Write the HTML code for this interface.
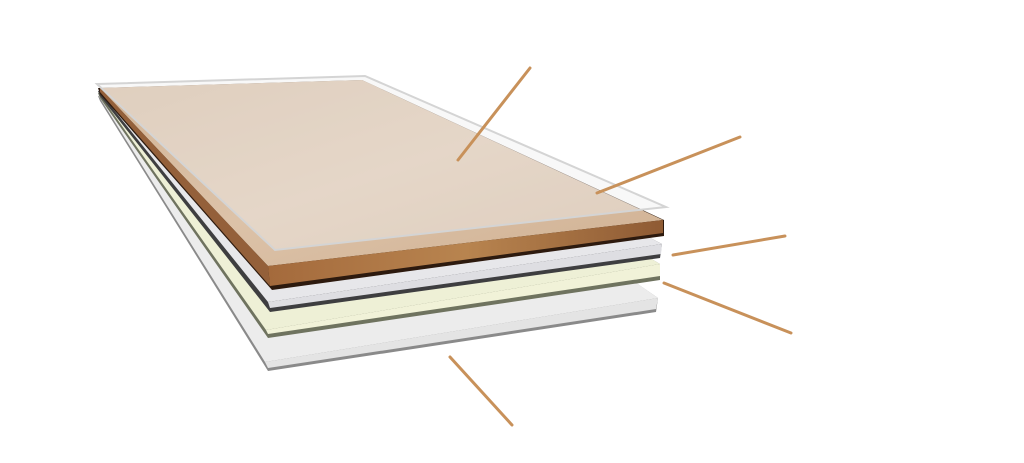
<!DOCTYPE html>
<html><head><style>html,body{margin:0;padding:0;background:#fff;}svg{display:block}</style></head>
<body>
<svg width="1024" height="463" viewBox="0 0 1024 463" xmlns="http://www.w3.org/2000/svg">
<defs>
<linearGradient id="wtop" x1="0" y1="0" x2="1" y2="1">
<stop offset="0" stop-color="#d2b496"/><stop offset="0.5" stop-color="#dcc2a8"/><stop offset="1" stop-color="#d0b193"/>
</linearGradient>
<linearGradient id="wside" x1="0" y1="0" x2="1" y2="0">
<stop offset="0" stop-color="#a46a3c"/><stop offset="0.5" stop-color="#b8844f"/><stop offset="1" stop-color="#8f5b34"/>
</linearGradient>
</defs>
<polygon points="98,96 360,92 658,298 656,312 268,371 100,101" fill="#8a8a8a"/>
<polygon points="98,95 360,90 658,298 265,362" fill="#ececec"/>
<polygon points="265,362 658,298 656,309 268,368" fill="#e4e4e4"/>
<polygon points="98,93 360,88 660,264 660,280 268,338 100,98" fill="#6f735f"/>
<polygon points="98,92 360,87 660,264 266,330" fill="#eef0d6"/>
<polygon points="266,330 660,264 660,276 268,334" fill="#f1f2d8"/>
<polygon points="98,91 360,86 662,244 660,258 270,312 100,96" fill="#3e3e40"/>
<polygon points="98,90 360,85 662,244 268,302" fill="#e7e7ea"/>
<polygon points="268,302 662,244 661,254 270,308" fill="#dedee2"/>
<polygon points="98,88 362,80 664,220 664,236 272,290 100,94" fill="#2d1a0e"/>
<polygon points="100,88 362,80 663,220 268,266" fill="url(#wtop)"/>
<polygon points="100,88 268,266 270,286 100,92" fill="#94603a"/>
<polygon points="268,266 663,220 663,233 270,286" fill="url(#wside)"/>
<polygon points="97,84 365,76 666,207 275,250" fill="rgba(240,240,240,0.45)" stroke="#d4d4d4" stroke-width="2"/>
<g stroke="#c8915a" stroke-width="3" stroke-linecap="round">
<line x1="530" y1="68" x2="458" y2="160"/>
<line x1="740" y1="137" x2="597" y2="193"/>
<line x1="785" y1="236" x2="673" y2="255"/>
<line x1="664" y1="283" x2="791" y2="333"/>
<line x1="450" y1="357" x2="512" y2="425"/>
</g>
</svg>
</body></html>
